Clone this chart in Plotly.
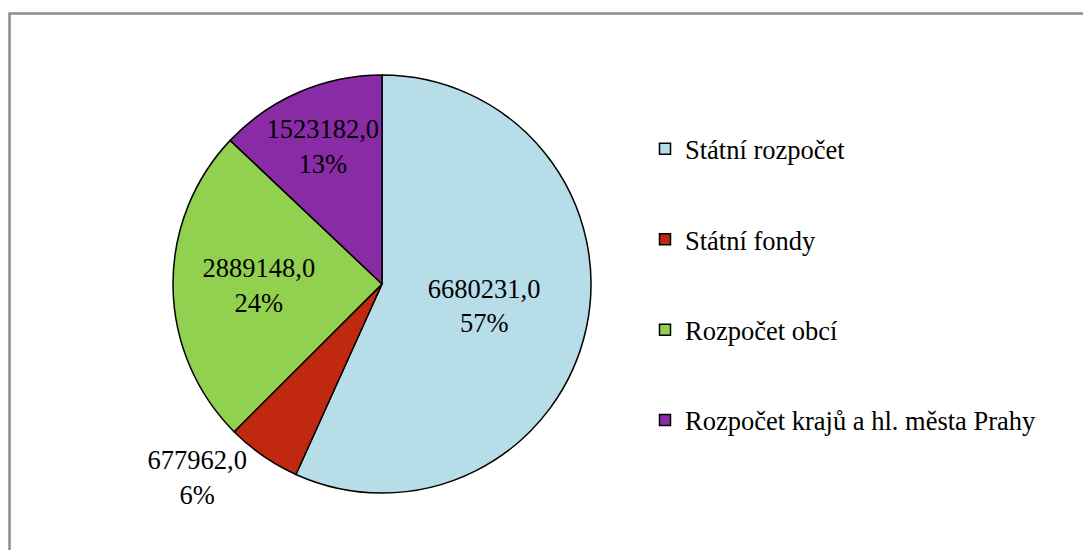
import plotly.graph_objects as go

labels = ["Státní rozpočet", "Státní fondy", "Rozpočet obcí", "Rozpočet krajů a hl. města Prahy"]
values = [6680231.0, 677962.0, 2889148.0, 1523182.0]
pct_labels = ["57%", "6%", "24%", "13%"]
colors = ["#B7DEE8", "#C0290F", "#92D050", "#8A2BA6"]
text_pos = ["inside", "outside", "inside", "inside"]

W, H = 1083, 550
FONT = "Liberation Serif, Times New Roman, serif"
FS = 26.5

value_text = [f"{v:.1f}".replace(".", ",") + "<br>" + p for v, p in zip(values, pct_labels)]

fig = go.Figure()
fig.add_trace(go.Pie(
    labels=labels,
    values=values,
    text=value_text,
    texttemplate="%{text}",
    textposition=text_pos,
    insidetextorientation="horizontal",
    sort=False,
    direction="clockwise",
    rotation=0,
    marker=dict(colors=colors, line=dict(color="black", width=1.5)),
    textfont=dict(family=FONT, size=FS, color="black"),
    showlegend=False,
    hoverinfo="label+value+percent",
    domain=dict(x=[173 / W, 591 / W], y=[1 - 493 / H, 1 - 75 / H]),
))

for i, (lab, col) in enumerate(zip(labels, colors)):
    fig.add_trace(go.Scatter(
        x=[None], y=[None], mode="markers", name=lab,
        legendgroup=f"g{i}",
        marker=dict(symbol="square", size=11, color=col, line=dict(color="black", width=1.5)),
        showlegend=True,
    ))

fig.update_layout(
    width=W, height=H,
    margin=dict(l=0, r=0, t=0, b=0),
    paper_bgcolor="white", plot_bgcolor="white",
    xaxis=dict(visible=False), yaxis=dict(visible=False),
    uniformtext=dict(minsize=FS, mode="show"),
    legend=dict(
        x=645 / W, y=1 - 125 / H, xanchor="left", yanchor="top",
        font=dict(family=FONT, size=FS, color="black"),
        tracegroupgap=53, bgcolor="rgba(0,0,0,0)",
    ),
    shapes=[dict(
        type="rect", xref="paper", yref="paper",
        x0=9.5 / W, y0=-0.05, x1=1.05, y1=1 - 13.5 / H,
        line=dict(color="#8C8C8C", width=2.5), fillcolor="rgba(0,0,0,0)",
    )],
)

fig.write_html("out.html", config={"displayModeBar": False},
               post_script="document.body.style.margin='0px';")
